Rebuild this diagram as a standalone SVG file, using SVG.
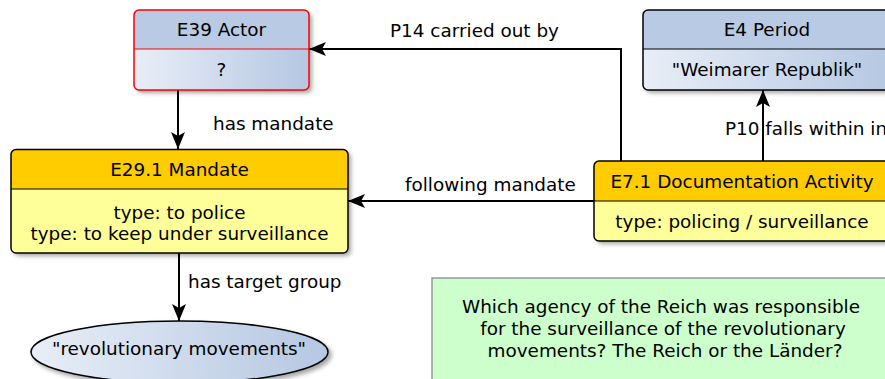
<svg xmlns="http://www.w3.org/2000/svg" width="885" height="379" viewBox="0 0 885 379">
  <defs>
    <linearGradient id="blueGrad" x1="0" y1="0" x2="1" y2="0">
      <stop offset="0" stop-color="#e8eef7"/>
      <stop offset="1" stop-color="#b5c7e2"/>
    </linearGradient>
    <filter id="shadow" x="-10%" y="-10%" width="130%" height="140%">
      <feDropShadow dx="3" dy="3" stdDeviation="2" flood-color="#000" flood-opacity="0.35"/>
    </filter>
    <marker id="arrow" viewBox="0 0 18 16" refX="17" refY="8" markerWidth="18" markerHeight="16" markerUnits="userSpaceOnUse" orient="auto">
      <path d="M17,8 L0,1 L4,8 L0,15 Z" fill="#000"/>
    </marker>
  </defs>
  <style>
    text { font-family: "DejaVu Sans", Verdana, sans-serif; font-size: 18.4px; fill: #000; }
    .c { text-anchor: middle; }
    .edge { fill: none; stroke: #000; stroke-width: 2; marker-end: url(#arrow); }
    .frame { stroke: #000; stroke-width: 1.5; }
    .red { stroke: #ff0000; }
    .hdrBlue { fill: #b8cae4; }
    .bodyBlue { fill: url(#blueGrad); }
    .hdrGold { fill: #ffcc00; }
    .bodyYellow { fill: #ffff99; }
    .sep { stroke: #000; stroke-width: 1.2; }
  </style>

  <!-- connectors -->
  <g id="edges">
    <path class="edge" d="M178,90 L178,149"/>
    <path class="edge" d="M621,161 L621,49 L309,49"/>
    <path class="edge" d="M594,201 L348,201"/>
    <path class="edge" d="M763,161 L763,90"/>
    <path class="edge" d="M179,253 L179,321"/>
    <text x="213" y="130">has mandate</text>
    <text x="390" y="37">P14 carried out by</text>
    <text x="405" y="191">following mandate</text>
    <text x="725" y="135">P10 falls within in</text>
    <text x="188" y="288">has target group</text>
  </g>

  <!-- E39 Actor -->
  <g id="actor">
    <g filter="url(#shadow)">
      <rect x="134" y="10" width="175" height="80" rx="5" class="bodyBlue"/>
    </g>
    <path d="M134,49 L134,15 Q134,10 139,10 L304,10 Q309,10 309,15 L309,49 Z" class="hdrBlue"/>
    <line x1="134" y1="49" x2="309" y2="49" stroke="#ff0000" stroke-width="1.2"/>
    <rect x="134" y="10" width="175" height="80" rx="5" fill="none" class="frame red"/>
    <text class="c" x="221.5" y="36">E39 Actor</text>
    <text class="c" x="221.5" y="76">?</text>
  </g>

  <!-- E29.1 Mandate -->
  <g id="mandate">
    <g filter="url(#shadow)">
      <rect x="11" y="149.5" width="337" height="103.5" rx="5" class="bodyYellow"/>
    </g>
    <path d="M11,189 L11,154.5 Q11,149.5 16,149.5 L343,149.5 Q348,149.5 348,154.5 L348,189 Z" class="hdrGold"/>
    <line x1="11" y1="189" x2="348" y2="189" class="sep"/>
    <rect x="11" y="149.5" width="337" height="103.5" rx="5" fill="none" class="frame"/>
    <text class="c" x="179.5" y="176">E29.1 Mandate</text>
    <text class="c" x="179.5" y="219">type: to police</text>
    <text class="c" x="179.5" y="240">type: to keep under surveillance</text>
  </g>

  <!-- E4 Period -->
  <g id="period">
    <g filter="url(#shadow)">
      <rect x="643" y="10" width="250" height="80" rx="5" class="bodyBlue"/>
    </g>
    <path d="M643,49 L643,15 Q643,10 648,10 L888,10 Q893,10 893,15 L893,49 Z" class="hdrBlue"/>
    <line x1="643" y1="49" x2="893" y2="49" class="sep"/>
    <rect x="643" y="10" width="250" height="80" rx="5" fill="none" class="frame"/>
    <text class="c" x="767" y="36">E4 Period</text>
    <text class="c" x="767" y="76">"Weimarer Republik"</text>
  </g>

  <!-- E7.1 Documentation Activity -->
  <g id="activity">
    <g filter="url(#shadow)">
      <rect x="594" y="161" width="300" height="80" rx="5" class="bodyYellow"/>
    </g>
    <path d="M594,201 L594,166 Q594,161 599,161 L889,161 Q894,161 894,166 L894,201 Z" class="hdrGold"/>
    <line x1="594" y1="201" x2="894" y2="201" class="sep"/>
    <rect x="594" y="161" width="300" height="80" rx="5" fill="none" class="frame"/>
    <text class="c" x="742" y="188">E7.1 Documentation Activity</text>
    <text class="c" x="742" y="228">type: policing / surveillance</text>
  </g>

  <!-- target group literal -->
  <g id="targetGroup">
    <ellipse cx="179.5" cy="352" rx="148.5" ry="31" fill="url(#blueGrad)" stroke="#000" stroke-width="1.5" filter="url(#shadow)"/>
    <text class="c" x="179" y="355">"revolutionary movements"</text>
  </g>

  <!-- research question note -->
  <g id="note">
    <rect x="432" y="278" width="460" height="110" fill="#ccffcc" stroke="#999" stroke-width="1.5"/>
    <text class="c" x="661" y="313">Which agency of the Reich was responsible</text>
    <text class="c" x="663" y="335">for the surveillance of the revolutionary</text>
    <text class="c" x="665" y="357">movements? The Reich or the Länder?</text>
  </g>
</svg>
